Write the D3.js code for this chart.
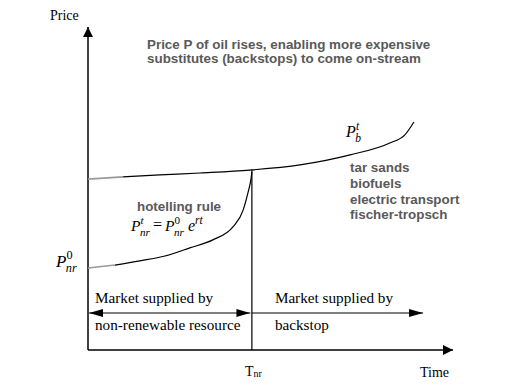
<!DOCTYPE html>
<html lang="en">
  <head>
    <meta charset="UTF-8" />
    <title>hotelling rule and backstop</title>
    <style>
      body { margin: 0; background: #fff; }
      .serif { font-family: "Liberation Serif", "DejaVu Serif", serif; fill: #000; }
      .note { font-family: "Liberation Sans", Arial, sans-serif; font-weight: bold; fill: #595959; font-size: 13.4px; }
    </style>
  </head>
  <body>
    <svg width="520" height="390" xmlns="http://www.w3.org/2000/svg"></svg>
    <script src="https://cdn.jsdelivr.net/npm/d3@7"></script>
    <script>
      // time / price in arbitrary units (0..100 on each axis)
      const backstopT = [0, 9.6, 19.7, 30.7, 44.4, 58.1, 71.8, 82.7, 86.8, 89.3];
      const backstopP = [52.9, 53.6, 54.2, 54.8, 55.7, 57.3, 60.4, 64.1, 66.6, 70.6];
      const hotellingT = [0, 7.4, 14.2, 21.1, 27.9, 34.2, 39.7, 42.5, 43.8, 44.7, 44.9];
      const hotellingP = [25.4, 26.3, 27.6, 29.1, 31.6, 34.1, 38.1, 43.3, 48.6, 53.3, 55.1];
      const tSwitch = 44.9;
      const backstopList = ["tar sands", "biofuels", "electric transport", "fischer-tropsch"];
      const titleLines = ["Price P of oil rises, enabling more expensive", "substitutes (backstops) to come on-stream"];

      const svg = d3.select("svg");
      const x = d3.scaleLinear().domain([0, 100]).range([88, 453]);
      const y = d3.scaleLinear().domain([0, 100]).range([350, 27]);

      const defs = svg.append("defs");
      defs.append("marker").attr("id", "head")
        .attr("viewBox", "0 0 10 10").attr("refX", 10).attr("refY", 5)
        .attr("markerWidth", 10).attr("markerHeight", 10)
        .attr("markerUnits", "userSpaceOnUse").attr("orient", "auto-start-reverse")
        .append("path").attr("d", "M0,0L10,5L0,10Z").attr("fill", "#000");
      defs.append("marker").attr("id", "small")
        .attr("viewBox", "0 0 10 10").attr("refX", 10).attr("refY", 5)
        .attr("markerWidth", 14).attr("markerHeight", 8)
        .attr("markerUnits", "userSpaceOnUse").attr("orient", "auto-start-reverse")
        .attr("preserveAspectRatio", "none")
        .append("path").attr("d", "M0,0L10,5L0,10Z").attr("fill", "#000");

      // axes
      svg.append("line").attr("x1", x(0)).attr("y1", y(0)).attr("x2", x(0)).attr("y2", y(100))
        .attr("stroke", "#000").attr("stroke-width", 1.5).attr("marker-end", "url(#head)");
      svg.append("line").attr("x1", x(0)).attr("y1", y(0)).attr("x2", x(100)).attr("y2", y(0))
        .attr("stroke", "#000").attr("stroke-width", 1.5).attr("marker-end", "url(#head)");

      // switch time
      svg.append("line").attr("x1", x(tSwitch)).attr("x2", x(tSwitch))
        .attr("y1", y(0)).attr("y2", y(55.9))
        .attr("stroke", "#000").attr("stroke-width", 1.2);

      const line = d3.line().x(d => x(d[0])).y(d => y(d[1])).curve(d3.curveMonotoneX);
      const bPts = d3.zip(backstopT, backstopP);
      const hPts = d3.zip(hotellingT, hotellingP);

      svg.append("path").attr("d", line(bPts.slice(1))).attr("fill", "none").attr("stroke", "#000").attr("stroke-width", 1.2);
      svg.append("path").attr("d", line(bPts.slice(0, 2))).attr("fill", "none").attr("stroke", "#999").attr("stroke-width", 1.6);
      svg.append("path").attr("d", line(hPts.slice(1))).attr("fill", "none").attr("stroke", "#000").attr("stroke-width", 1.2);
      svg.append("path").attr("d", line(hPts.slice(0, 2))).attr("fill", "none").attr("stroke", "#999").attr("stroke-width", 1.6);

      // supply arrows
      const arrowP = (350 - 313) / 3.23;
      svg.append("line").attr("x1", x(0.3)).attr("x2", x(tSwitch - 0.4)).attr("y1", y(arrowP)).attr("y2", y(arrowP))
        .attr("stroke", "#000").attr("stroke-width", 1)
        .attr("marker-start", "url(#small)").attr("marker-end", "url(#small)");
      svg.append("line").attr("x1", x(tSwitch)).attr("x2", x(91.8)).attr("y1", y(arrowP)).attr("y2", y(arrowP))
        .attr("stroke", "#000").attr("stroke-width", 1).attr("marker-end", "url(#small)");

      // serif labels
      svg.append("text").attr("class", "serif").attr("x", 50).attr("y", 20).attr("font-size", 14).text("Price");
      svg.append("text").attr("class", "serif").attr("x", 420).attr("y", 377).attr("font-size", 14).text("Time");
      const tn = svg.append("text").attr("class", "serif").attr("x", 245).attr("y", 376).attr("font-size", 14);
      tn.append("tspan").text("T");
      tn.append("tspan").attr("font-size", 10).attr("dy", 1).text("nr");

      const supply = [["Market supplied by", "non-renewable resource", x(0) + 7], ["Market supplied by", "backstop", x(tSwitch) + 23]];
      supply.forEach(s => {
        svg.append("text").attr("class", "serif").attr("x", s[2]).attr("y", 303).attr("font-size", 15.2).text(s[0]);
        svg.append("text").attr("class", "serif").attr("x", s[2]).attr("y", 330).attr("font-size", 15.2).text(s[1]);
      });

      // grey notes
      titleLines.forEach((t, i) => {
        svg.append("text").attr("class", "note").attr("x", 147).attr("y", 49 + i * 14).text(t);
      });
      backstopList.forEach((t, i) => {
        svg.append("text").attr("class", "note").attr("x", 350).attr("y", 172 + i * 15.8).attr("font-size", 13).text(t);
      });
      svg.append("text").attr("class", "note").attr("x", 137).attr("y", 211).attr("font-size", 13).text("hotelling rule");

      // math labels: P with sup/sub
      function pLabel(px, py, sup, sub, size) {
        const g = svg.append("g").attr("class", "serif").attr("font-style", "italic");
        g.append("text").attr("x", px).attr("y", py).attr("font-size", size).text("P");
        g.append("text").attr("x", px + size * 0.62).attr("y", py - size * 0.45).attr("font-size", size * 0.72)
          .attr("font-style", sup === "0" ? "normal" : "italic").text(sup);
        g.append("text").attr("x", px + size * 0.58).attr("y", py + size * 0.3).attr("font-size", size * 0.72).text(sub);
        return g;
      }
      pLabel(56, 267, "0", "nr", 17);
      pLabel(346, 137, "t", "b", 16);
      pLabel(131, 231, "t", "nr", 15.5);
      svg.append("text").attr("class", "serif").attr("x", 153).attr("y", 230).attr("font-size", 16).text("=");
      pLabel(165, 231, "0", "nr", 15.5);
      const e = svg.append("text").attr("class", "serif").attr("font-style", "italic").attr("x", 188).attr("y", 231).attr("font-size", 16);
      e.append("tspan").text("e");
      e.append("tspan").attr("font-size", 11.5).attr("dy", -7).text("rt");
    </script>
  </body>
</html>
